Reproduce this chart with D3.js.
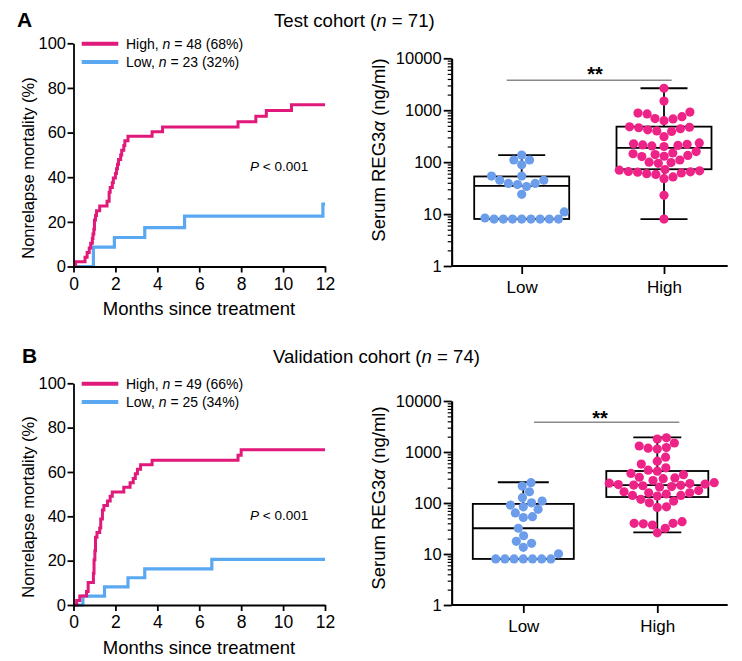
<!DOCTYPE html>
<html><head><meta charset="utf-8">
<script src="https://cdn.jsdelivr.net/npm/d3@7"></script>
<style>
body{margin:0;background:#fff}
svg{display:block;font-family:"Liberation Sans",Arial,Helvetica,sans-serif}
</style>
</head><body>
<svg id="c" width="742" height="661"></svg>
<script>
// ---------------- DATA ----------------
const monthTicks = [0, 2, 4, 6, 8, 10, 12];
const pctTicks = [0, 20, 40, 60, 80, 100];
const serumTicks = [1, 10, 100, 1000, 10000];
const groups = ["Low", "High"];

// Kaplan-Meier style cumulative nonrelapse mortality: [months, %]
const kmA_high = [[0,0],[0.1,2.1],[0.55,4.2],[0.65,6.3],[0.75,8.3],[0.82,10.4],[0.9,12.5],[0.93,14.6],[0.97,16.7],[1.0,20.8],[1.05,22.9],[1.1,25.0],[1.25,27.1],[1.6,29.2],[1.7,33.3],[1.75,35.4],[1.85,37.5],[1.9,39.6],[2.0,41.7],[2.05,43.8],[2.1,45.8],[2.15,47.9],[2.25,50.0],[2.3,52.1],[2.4,54.2],[2.45,56.3],[2.6,58.3],[3.75,60.4],[4.25,62.5],[7.85,64.8],[8.7,67.3],[9.2,69.9],[10.4,72.5],[12,72.5]];
const kmA_low = [[0,0],[0.95,8.7],[1.95,13.0],[3.4,17.4],[5.3,22.6],[11.9,28.0],[12,28.0]];
const kmB_high = [[0,0],[0.15,2.0],[0.3,4.1],[0.62,6.1],[0.7,10.2],[0.95,14.3],[0.98,20.4],[1.02,24.5],[1.05,30.6],[1.12,32.7],[1.25,34.7],[1.3,38.8],[1.38,42.9],[1.45,44.9],[1.62,46.9],[1.75,49.0],[1.85,51.0],[2.4,53.1],[2.7,55.1],[2.85,57.1],[2.95,59.2],[3.05,61.2],[3.2,63.3],[3.75,65.3],[7.85,67.6],[8.0,70.0],[12,70.0]];
const kmB_low = [[0,0],[0.45,4.0],[1.48,8.2],[2.6,12.3],[3.4,16.3],[6.6,20.6],[12,20.6]];

const legendA = [["High, ", "n", " = 48 (68%)"], ["Low, ", "n", " = 23 (32%)"]];
const legendB = [["High, ", "n", " = 49 (66%)"], ["Low, ", "n", " = 25 (34%)"]];
const titles = [["Test cohort (", "n", " = 71)"], ["Validation cohort (", "n", " = 74)"]];

// Serum REG3alpha (ng/ml) individual values
const dotsA_low = [137,110,110,89,54,54,45,45,39,39,37,34,24,11,8.4,8,8,8,8,8,8,8,8];
const dotsA_high = [2650,1500,920,880,850,750,690,680,630,480,470,460,440,420,400,390,310,235,225,220,215,210,205,200,160,150,145,140,135,130,128,110,100,98,95,72,70,68,66,65,64,62,60,58,52,48,23,8];
const dotsB_low = [250,215,166,127,109,101,91,84,75,64,54,52,32,22.8,17.7,16.2,13.5,10.1,8,8,8,8,8,8,8];
const dotsB_high = [1900,1800,1500,1310,1220,1190,1140,790,660,580,490,440,420,380,360,320,310,300,275,250,245,240,235,230,225,222,218,210,205,175,166,158,158,150,141,141,137,118,109,101,84,82,43,40,40,39,37,32,26];

// box stats: [whisker min, Q1, median, Q3, whisker max]
const boxA_low = [8, 8.05, 35, 53, 137];
const boxA_high = [8, 73, 188, 483, 2650];
const boxB_low = [8, 8, 32, 96, 255];
const boxB_high = [26.6, 131, 225, 424, 1940];

// ---------------- STYLE ----------------
const PINK = "#E0197A", BLUE = "#5AA8F2", DOT_PINK = "#EE2388", DOT_BLUE = "#6B9DEA";
const svg = d3.select("#c");

function styleAxis(g, fs) {
  g.attr("font-family", null).attr("font-size", null);
  g.selectAll("path.domain").attr("stroke", "#000").attr("stroke-width", 1.8);
  g.selectAll(".tick line").attr("stroke", "#000").attr("stroke-width", 1.8);
  g.selectAll(".tick text").attr("fill", "#000").style("font-size", fs + "px");
}

function richText(sel, parts) {
  parts.forEach((p, i) => sel.append("tspan").text(p).style("font-style", i === 1 ? "italic" : "normal"));
}

function drawKM(yBottom, yTop, high, low, legend, pY, labelCy) {
  const g = svg.append("g");
  const x = d3.scaleLinear().domain([0, 12]).range([73.5, 325]);
  const y = d3.scaleLinear().domain([0, 100]).range([yBottom, yTop]);
  const line = d3.line().x(d => x(d[0])).y(d => y(d[1])).curve(d3.curveStepAfter);

  g.append("path").datum(low).attr("d", line).attr("fill", "none").attr("stroke", BLUE).attr("stroke-width", 3.2);
  g.append("path").datum(high).attr("d", line).attr("fill", "none").attr("stroke", PINK).attr("stroke-width", 3);

  const ax = g.append("g").attr("transform", `translate(0,${yBottom})`)
    .call(d3.axisBottom(x).tickValues(monthTicks).tickSize(6).tickSizeOuter(0).tickPadding(5));
  styleAxis(ax, 17.5);
  const ay = g.append("g").attr("transform", `translate(73.5,0)`)
    .call(d3.axisLeft(y).tickValues(pctTicks).tickSize(6).tickSizeOuter(0).tickPadding(1.5));
  styleAxis(ay, 16.5);

  g.append("text").attr("transform", `translate(34,${labelCy}) rotate(-90)`)
    .attr("text-anchor", "middle").style("font-size", "16.5px").text("Nonrelapse mortality (%)");
  g.append("text").attr("x", 199).attr("y", yBottom + 48.5)
    .attr("text-anchor", "middle").style("font-size", "18.5px").text("Months since treatment");

  // legend
  [PINK, BLUE].forEach((c, i) => {
    const ly = yTop + 0.5 + i * 18.2;
    g.append("line").attr("x1", 81.7).attr("x2", 118.3).attr("y1", ly).attr("y2", ly)
      .attr("stroke", c).attr("stroke-width", 4);
    const t = g.append("text").attr("x", 126).attr("y", ly + 5).style("font-size", "14px");
    richText(t, legend[i]);
  });
  const pt = g.append("text").attr("x", 250).attr("y", pY).style("font-size", "13.5px");
  pt.append("tspan").text("P").style("font-style", "italic");
  pt.append("tspan").text(" < 0.001");
}

function swarm(ys, r) {
  const d = 2 * r;
  const placed = [];
  const xs = new Array(ys.length);
  const order = ys.map((v, i) => i).sort((a, b) => ys[b] - ys[a]);
  for (const i of order) {
    const y = ys[i];
    const near = placed.filter(p => Math.abs(p.y - y) < d);
    const cands = [0];
    near.forEach(p => { const dx = Math.sqrt(d * d - (p.y - y) ** 2); cands.push(p.x + dx, p.x - dx); });
    cands.sort((a, b) => Math.abs(a) - Math.abs(b) || b - a);
    const xv = cands.find(c => near.every(p => (p.x - c) ** 2 + (p.y - y) ** 2 >= d * d - 1e-6));
    xs[i] = xv; placed.push({ x: xv, y });
  }
  return xs;
}

function drawBox(yBottom, yTop, xLow, xHigh, xEnd, boxes, dots, boxW, capW, sig, sigText, labelCy, labelBase) {
  const g = svg.append("g");
  const axisX = 451.7;
  const y = d3.scaleLog().domain([1, 10000]).range([yBottom, yTop]);
  const x = d3.scalePoint().domain(groups).range([xLow, xHigh]);

  // minor ticks
  const minor = [];
  serumTicks.slice(0, -1).forEach(t => d3.range(2, 10).forEach(k => minor.push(t * k)));
  const am = g.append("g").attr("transform", `translate(${axisX},0)`)
    .call(d3.axisLeft(y).tickValues(minor).tickSize(4).tickSizeOuter(0).tickFormat(""));
  styleAxis(am, 16);
  am.selectAll(".tick line").attr("stroke-width", 1.2);
  const ay = g.append("g").attr("transform", `translate(${axisX},0)`)
    .call(d3.axisLeft(y).tickValues(serumTicks).tickSize(8).tickSizeOuter(0).tickPadding(2).tickFormat(d3.format("d")));
  styleAxis(ay, 16.5);

  const ax = g.append("g").attr("transform", `translate(0,${yBottom})`)
    .call(d3.axisBottom(x).tickSize(8).tickSizeOuter(0).tickPadding(7));
  styleAxis(ax, 17);
  ax.select("path.domain").remove();
  g.append("line").attr("x1", axisX).attr("x2", xEnd).attr("y1", yBottom).attr("y2", yBottom)
    .attr("stroke", "#000").attr("stroke-width", 1.8);

  // boxes
  groups.forEach((grp, gi) => {
    const b = boxes[gi], cx = x(grp), bw = boxW[gi], cw = capW[gi];
    const bg = g.append("g").attr("stroke", "#000").attr("stroke-width", 1.8).attr("fill", "none");
    bg.append("line").attr("x1", cx).attr("x2", cx).attr("y1", y(b[0])).attr("y2", y(b[1]));
    bg.append("line").attr("x1", cx).attr("x2", cx).attr("y1", y(b[3])).attr("y2", y(b[4]));
    bg.append("line").attr("x1", cx - cw / 2).attr("x2", cx + cw / 2).attr("y1", y(b[0])).attr("y2", y(b[0]));
    bg.append("line").attr("x1", cx - cw / 2).attr("x2", cx + cw / 2).attr("y1", y(b[4])).attr("y2", y(b[4]));
    bg.append("rect").attr("x", cx - bw / 2).attr("width", bw).attr("y", y(b[3])).attr("height", y(b[1]) - y(b[3]));
    bg.append("line").attr("x1", cx - bw / 2).attr("x2", cx + bw / 2).attr("y1", y(b[2])).attr("y2", y(b[2]));
  });

  // dots
  const r = 4.6;
  groups.forEach((grp, gi) => {
    const vals = dots[gi];
    const ys = vals.map(v => y(v));
    const xs = swarm(ys, r);
    g.append("g").selectAll("circle").data(vals).join("circle")
      .attr("cx", (d, i) => x(grp) + xs[i]).attr("cy", (d, i) => ys[i]).attr("r", r)
      .attr("fill", gi === 0 ? DOT_BLUE : DOT_PINK);
  });

  // significance
  g.append("line").attr("x1", sig[0]).attr("x2", sig[1]).attr("y1", sig[2]).attr("y2", sig[2])
    .attr("stroke", "#8a8a8a").attr("stroke-width", 1.5);
  g.append("text").attr("x", sigText[0]).attr("y", sigText[1]).attr("text-anchor", "middle")
    .style("font-size", "20px").style("font-weight", "bold").text("**");

  const lt = g.append("text").attr("transform", `translate(${labelBase},${labelCy}) rotate(-90)`)
    .attr("text-anchor", "middle").style("font-size", "18.5px");
  lt.append("tspan").text("Serum REG3");
  lt.append("tspan").text("α").style("font-style", "italic");
  lt.append("tspan").text(" (ng/ml)");
}

// panel letters and titles
svg.append("text").attr("x", 17).attr("y", 27).style("font-size", "21px").style("font-weight", "bold").text("A");
svg.append("text").attr("x", 22).attr("y", 363).style("font-size", "21px").style("font-weight", "bold").text("B");
richText(svg.append("text").attr("x", 274).attr("y", 27).style("font-size", "18.6px"), titles[0]);
richText(svg.append("text").attr("x", 273).attr("y", 363).style("font-size", "18.6px"), titles[1]);

drawKM(266.5, 43.3, kmA_high, kmA_low, legendA, 171, 168);
drawKM(605, 383.3, kmB_high, kmB_low, legendB, 520, 507);

drawBox(266, 58.3, 521.7, 664, 727.7, [boxA_low, boxA_high], [dotsA_low, dotsA_high],
  [95, 95], [47, 47], [506.7, 671.7, 80.3], [595, 81], 150, 385);
drawBox(605, 401, 523.3, 657.3, 727.7, [boxB_low, boxB_high], [dotsB_low, dotsB_high],
  [101, 102], [51, 48], [534, 679.3, 422.3], [600, 425], 498, 385);
</script>
</body></html>
